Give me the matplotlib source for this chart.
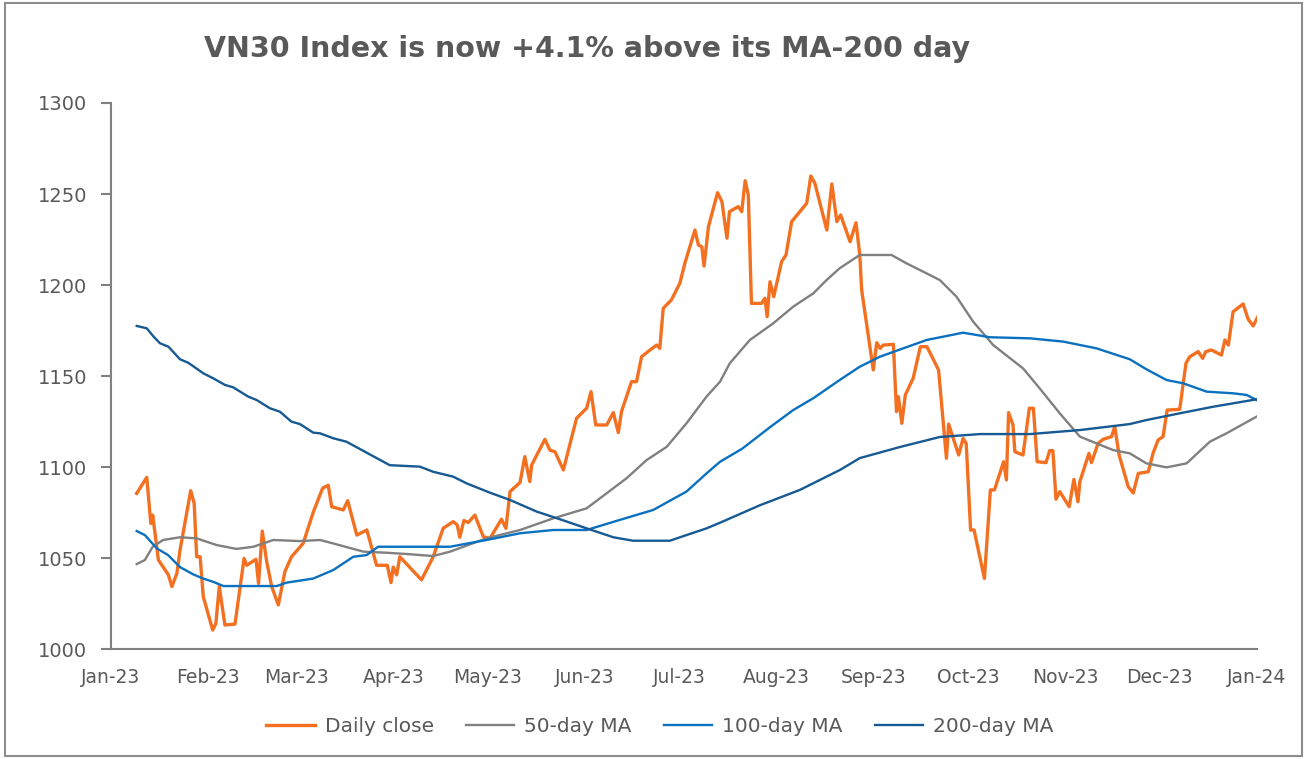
import matplotlib
matplotlib.use("Agg")
import matplotlib.pyplot as plt
import matplotlib.dates as mdates
from matplotlib.patches import Rectangle
import pandas as pd

# days counted from 2023-01-01
close_days = [8.2, 11.4, 12.7, 13.3, 15.1, 18.3, 19.4, 21, 22, 25.4, 26.5, 27.3, 28.4, 29.4,
              32.4, 33.4, 34.5, 36.3, 39.5, 42.4, 43.2, 46.2, 47, 48.2, 49.6, 51.2, 53.3, 55.4,
              57.5, 61.2, 64.5, 67.4, 69.2, 70.3, 74, 75.4, 78.3, 81.5, 84.6, 88, 89.2, 89.9,
              91, 92, 98.9, 102.6, 105.8, 109, 110.3, 111.1, 112.4, 113.8, 115.9, 118.6, 120.7,
              124.4, 125.8, 127.1, 130.3, 131.8, 133.4, 134, 138.2, 139.8, 141.4, 144.1, 148.3,
              151.5, 152.9, 154.4, 157.9, 160, 161.6, 162.6, 165.8, 167.4, 169, 171.7, 173.8,
              174.8, 175.9, 178.5, 181.2, 182.8, 186, 187.1, 188.2, 188.9, 190.3, 193.2, 194.6,
              196.2, 197, 199.8, 200.9, 202, 203, 204, 207.2, 208.3, 209, 209.9, 211.1, 213.6,
              215, 216.8, 221.6, 222.9, 224.2, 228, 229.6, 231.2, 232.4, 235.4, 237.3, 238.5,
              239.1, 242.8, 243.9, 245, 246, 249.2, 250.2, 250.8, 251.9, 253, 255.5, 257.8,
              259.9, 263.6, 266.1, 266.8, 270, 271.4, 272.4, 273.8, 274.9, 278.2, 280.1, 281.4,
              284.3, 285.2, 285.9, 287.3, 287.9, 290.5, 292.5, 293.8, 295, 297.8, 299, 300, 301,
              302.2, 305.2, 306.7, 308, 308.6, 311.5, 312.3, 314.4, 316, 318.7, 319.7, 321.1,
              324, 325.6, 327.2, 330.4, 331.9, 333.5, 335.1, 336.4, 340.4, 342.4, 343.6, 346.3,
              347.7, 348.7, 350.5, 353.7, 354.8, 355.9, 357.4, 360.6, 362.2, 363.8, 365.4]
close_vals = [1085.5, 1094.3, 1069, 1073.6, 1049, 1040.7, 1034.3, 1041.6, 1054.4, 1087, 1080,
              1050.7, 1050.7, 1028.8, 1010.4, 1014, 1034.3, 1013.2, 1013.7, 1049.8, 1046, 1049.3,
              1036, 1064.8, 1048, 1034.3, 1024.2, 1042.5, 1050.7, 1058, 1075.5, 1088.3, 1090,
              1078.2, 1076.4, 1081.5, 1062.6, 1065.4, 1046, 1046, 1036.5, 1045, 1040.7, 1050.7,
              1038, 1050.5, 1066.3, 1070, 1068.1, 1061.4, 1070.6, 1069.5, 1073.6, 1061.7, 1060.8,
              1071.3, 1066.3, 1086.5, 1091.5, 1105.7, 1092, 1101.1, 1115.2, 1109.3, 1108.4,
              1098.4, 1126.8, 1132.3, 1141.4, 1123.1, 1123.1, 1129.9, 1118.9, 1130.4, 1146.9,
              1146.9, 1160.6, 1164.3, 1167, 1165.2, 1187.2, 1191.8, 1201, 1212, 1230.2, 1222,
              1221, 1210.4, 1232, 1250.7, 1245.8, 1225.7, 1240.3, 1243.1, 1240.3, 1257.3, 1249.5,
              1189.9, 1189.9, 1192.7, 1182.6, 1201.8, 1193.6, 1212.8, 1216.5, 1234.8, 1244.9,
              1259.9, 1255.9, 1230.2, 1255.5, 1234.8, 1238.5, 1223.8, 1234.2, 1216.5, 1197.3,
              1153.3, 1168.3, 1165.2, 1167, 1167.4, 1130.4, 1138.6, 1124, 1139.6, 1148.7, 1166.1,
              1166.1, 1153.3, 1104.8, 1123.6, 1106.6, 1115.7, 1113, 1065.4, 1065.4, 1038.8,
              1087.4, 1087.4, 1102.9, 1092.9, 1129.9, 1123.1, 1108.4, 1106.6, 1132.3, 1132.3,
              1102.9, 1102.4, 1109, 1109, 1082.3, 1086.5, 1078.2, 1093.2, 1080.9, 1092, 1107.5,
              1102.4, 1113, 1115.2, 1116.7, 1122.2, 1106.6, 1089.2, 1085.7, 1096.5, 1097.4,
              1107.5, 1114.8, 1116.7, 1131.3, 1131.7, 1157, 1160.6, 1163.4, 1159.7, 1163.4,
              1164.3, 1161.5, 1169.8, 1167, 1185.3, 1189.6, 1181.2, 1177.5, 1183]

ma50_days = [8.2, 10.8, 13.3, 16.6, 22, 27.3, 33.7, 40, 45.4, 51.7, 60.2, 66.6, 70.8, 80.4, 87.8,
             94.2, 102.6, 108, 119.6, 130.3, 140.9, 151.5, 157.9, 164.2, 170.6, 177, 183.3,
             189.7, 194, 197.1, 203.5, 210.9, 217.3, 223.7, 227.9, 232.1, 238.5, 248.6, 253.4,
             260.8, 264, 269.3, 274.6, 281, 290.5, 295.8, 302.2, 308.6, 319.2, 324.5, 329.8,
             336.2, 342.6, 350, 355.3, 364.9]
ma50_vals = [1046.7, 1048.9, 1056.2, 1059.9, 1061.4, 1060.8, 1057.1, 1055, 1056.2, 1059.9, 1059.3,
             1059.9, 1058, 1053.5, 1052.9, 1052.2, 1051.1, 1053.5, 1060.8, 1065.4, 1071.8, 1077.3,
             1085.6, 1093.8, 1103.8, 1111.1, 1124, 1138.7, 1146.9, 1157, 1169.8, 1178.9, 1188.1,
             1195.4, 1202.7, 1209.2, 1216.5, 1216.5, 1211.9, 1205.5, 1202.7, 1193.6, 1179.9, 1167,
             1154.2, 1143.2, 1129.5, 1116.7, 1109.3, 1107.5, 1102, 1099.8, 1102, 1113.9, 1118.5,
             1127.7]

ma100_days = [8.2, 10.8, 14.6, 18.2, 22, 26.2, 29.4, 32.6, 35.8, 52.8, 56, 64.4, 70.8, 77.2, 81.4,
              85.1, 108, 119.6, 130.3, 140.9, 151.5, 162, 172.7, 183.3, 189.7, 194, 201, 210,
              217.3, 223.7, 232.1, 238.5, 244.9, 259.8, 271.4, 279.9, 292.7, 303.3, 313.9, 324.5,
              329.8, 336.2, 341.5, 349, 357.4, 361.7, 364.9]
ma100_vals = [1064.8, 1062.6, 1055.3, 1051.6, 1045, 1041, 1038.7, 1036.9, 1034.6, 1034.6, 1036.5,
              1038.7, 1043.4, 1050.7, 1051.6, 1056.2, 1056.2, 1059.9, 1063.6, 1065.4, 1065.4,
              1070.9, 1076.4, 1086.5, 1096.5, 1102.9, 1110, 1122, 1131.3, 1137.8, 1147.8, 1155.1,
              1160.6, 1169.8, 1173.8, 1171.3, 1170.7, 1168.9, 1165.2, 1159.2, 1153.7, 1147.8,
              1146, 1141.4, 1140.5, 1139.6, 1136.8]

ma200_days = [8.2, 11.4, 13.6, 15.6, 18.3, 22, 24.6, 29.4, 32.6, 36.3, 38.9, 43.7, 46.4, 50.6,
              53.8, 57.5, 60.2, 64.4, 66.6, 70.8, 75, 88.8, 98.4, 102.6, 109, 113.3, 120.7, 127.1,
              135.6, 143, 151.5, 160, 166.3, 178, 183.3, 189.7, 194, 206.7, 219.4, 232.2, 238.5,
              251.3, 264, 276.8, 292.7, 308.6, 324.5, 329.8, 340.4, 351, 364.9]
ma200_vals = [1177.5, 1176.2, 1171.6, 1168, 1166.1, 1159.2, 1157.3, 1151.5, 1148.7, 1145.1, 1143.8,
              1138.7, 1136.8, 1132.3, 1130.4, 1124.9, 1123.6, 1118.9, 1118.5, 1115.8, 1113.9, 1101,
              1100.2, 1097.4, 1094.7, 1091, 1085.9, 1081.9, 1075.5, 1071.3, 1066.3, 1061.4, 1059.5,
              1059.5, 1062.6, 1066.3, 1069.4, 1079, 1087.4, 1098.4, 1104.9, 1111, 1116.5, 1118.1,
              1118.1, 1120.3, 1123.6, 1125.8, 1129.5, 1133.1, 1137.2]

start = pd.Timestamp("2023-01-01")


def to_dates(days):
    return start + pd.to_timedelta(days, unit="D")


text_col = "#595959"

fig = plt.figure(figsize=(13.07, 7.59), dpi=100)
fig.patches.append(Rectangle((0.004, 0.004), 0.992, 0.992, transform=fig.transFigure,
                             fill=False, edgecolor="#8c8c8c", linewidth=1.5))
ax = fig.add_axes([0.0849, 0.1449, 0.8768, 0.7194])

ax.plot(to_dates(close_days), close_vals, color="#F37021", lw=2.4, label="Daily close")
ax.plot(to_dates(ma50_days), ma50_vals, color="#808080", lw=1.7, label="50-day MA")
ax.plot(to_dates(ma100_days), ma100_vals, color="#0A70C0", lw=1.7, label="100-day MA")
ax.plot(to_dates(ma200_days), ma200_vals, color="#175A93", lw=1.7, label="200-day MA")

ax.set_ylim(1000, 1300)
ax.set_yticks(range(1000, 1301, 50))
ax.set_xlim(pd.Timestamp("2023-01-01"), pd.Timestamp("2024-01-01"))
ax.xaxis.set_major_locator(mdates.MonthLocator())
ax.xaxis.set_major_formatter(mdates.DateFormatter("%b-%y"))

for s in ["top", "right"]:
    ax.spines[s].set_visible(False)
for s in ["left", "bottom"]:
    ax.spines[s].set_color("#808080")
    ax.spines[s].set_linewidth(1.5)
ax.tick_params(axis="y", colors="#808080", labelcolor=text_col, labelsize=14, length=7, width=1.5, pad=10)
ax.tick_params(axis="x", length=0, labelcolor=text_col, labelsize=13.5, pad=14)

fig.text(0.449, 0.935, "VN30 Index is now +4.1% above its MA-200 day", ha="center", va="center",
         fontsize=20.5, fontweight="bold", color=text_col)

fig.legend(loc="center", bbox_to_anchor=(0.505, 0.043), ncol=4, frameon=False, fontsize=14.5,
           handlelength=2.4, handletextpad=0.5, columnspacing=1.6, labelcolor=text_col)

fig.savefig("out.png", dpi=100)
